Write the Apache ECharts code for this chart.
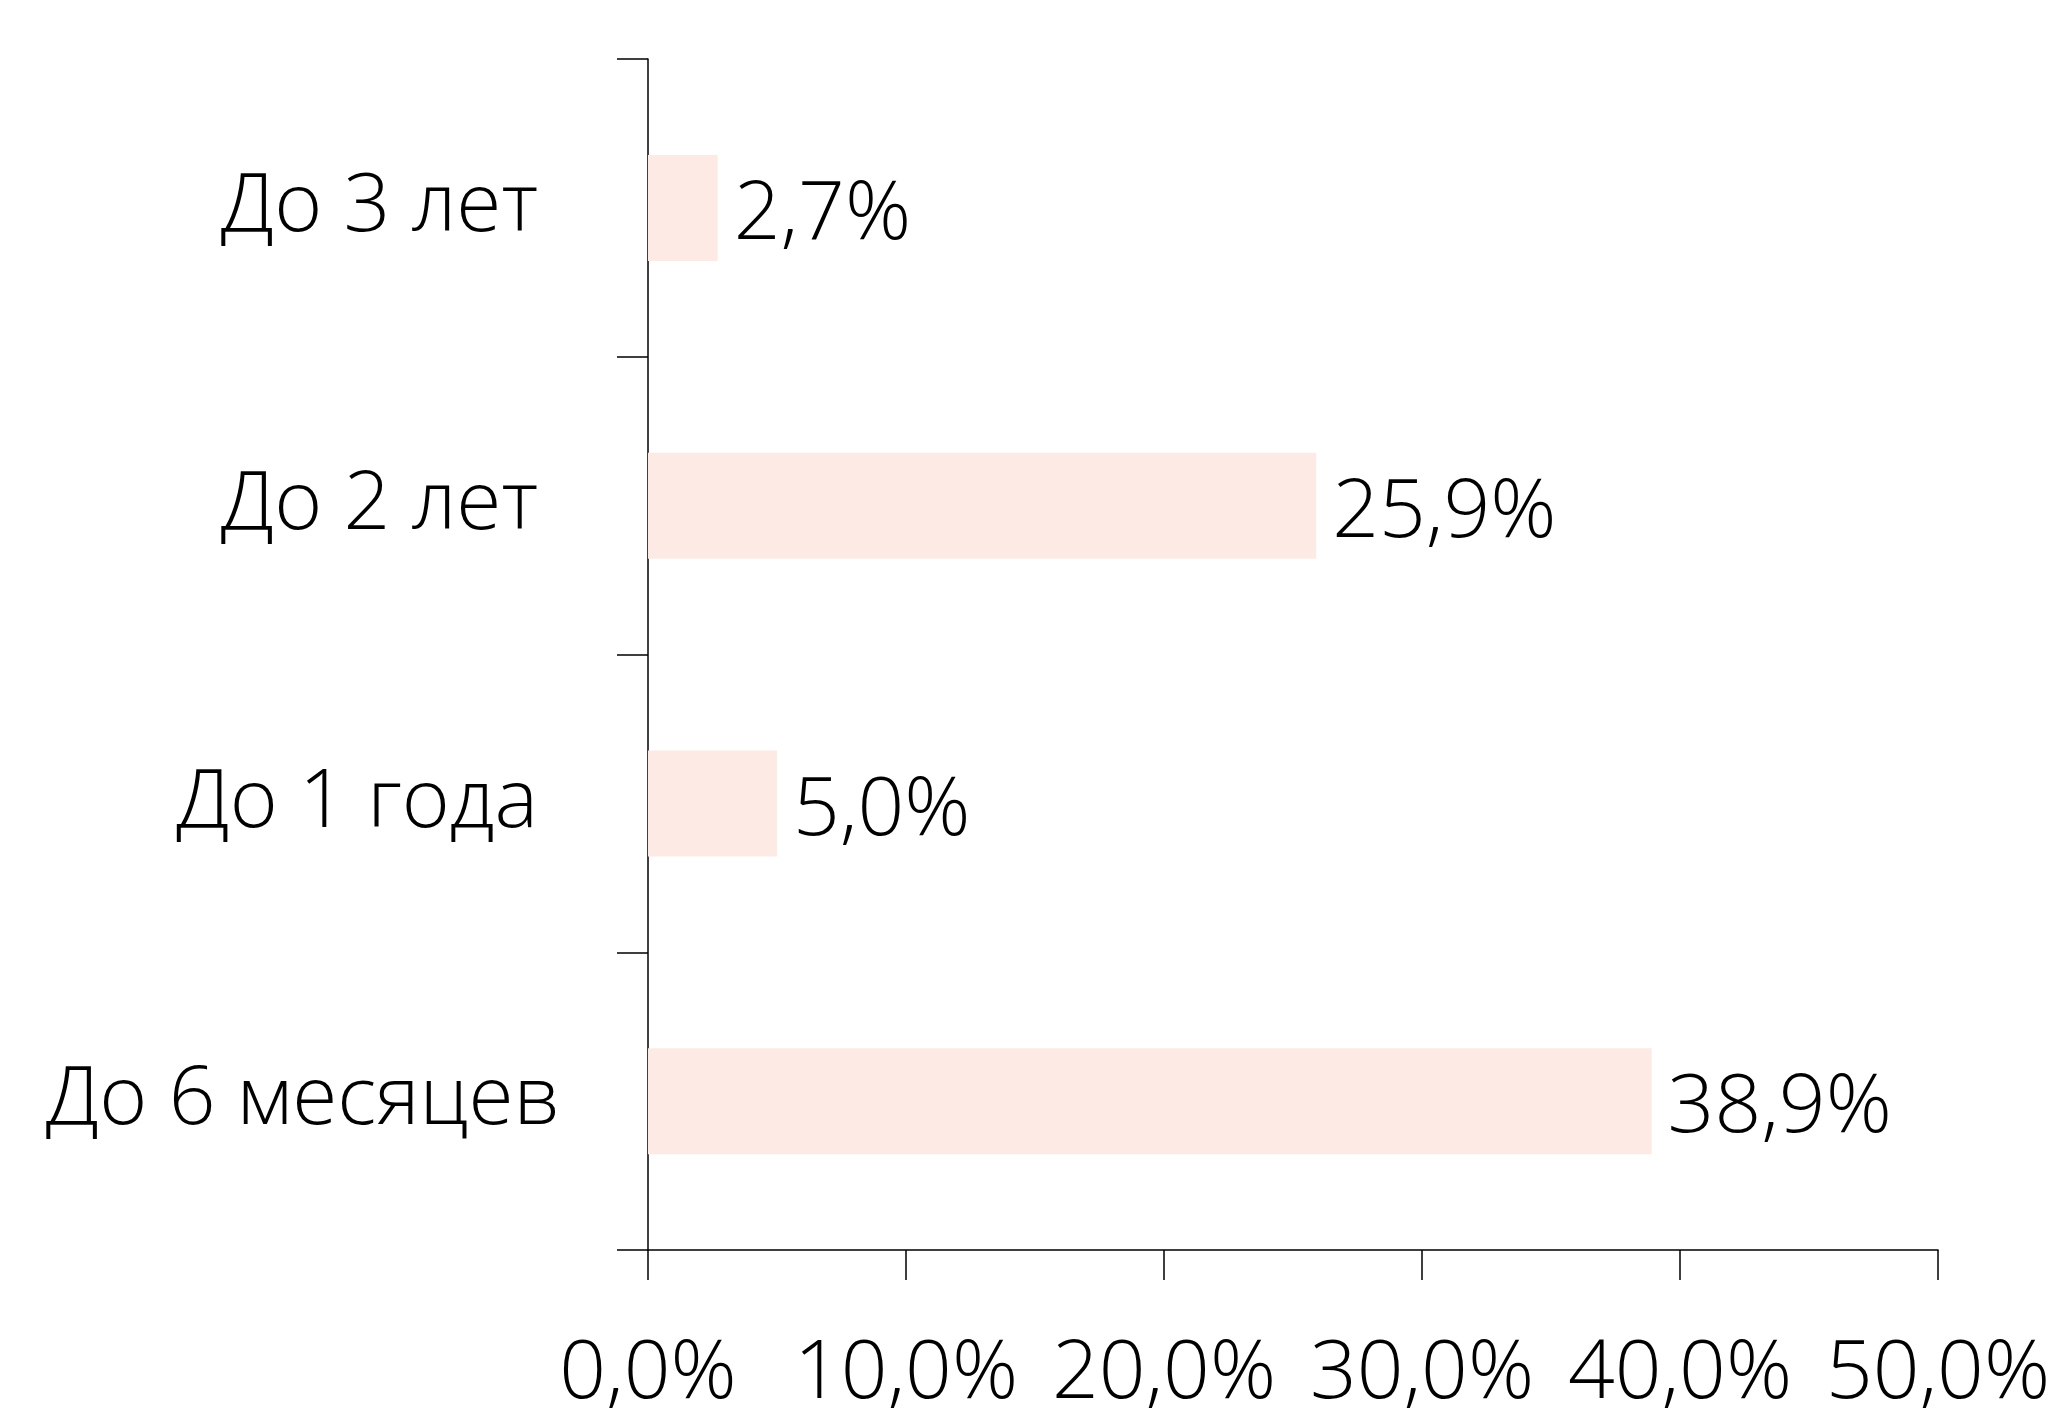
<!DOCTYPE html>
<html>
<head>
<meta charset="utf-8">
<script src="https://cdn.jsdelivr.net/npm/echarts@6/dist/echarts.min.js"></script>
<style>
html,body{margin:0;padding:0;background:#fff;}
#chart{width:2057px;height:1414px;}
</style>
</head>
<body>
<div id="chart"></div>
<script>
const categories = ['До 6 месяцев', 'До 1 года', 'До 2 лет', 'До 3 лет'];
const values = [38.9, 5.0, 25.9, 2.7];
const xMin = 0, xMax = 50, xStep = 10;

const fmt = v => v.toFixed(1).replace('.', ',') + '%';
const FONT = '"Open Sans", "Noto Sans", sans-serif';
const FS = 82;
const FW = 350;

const chart = echarts.init(document.getElementById('chart'));
chart.setOption({
  animation: false,
  backgroundColor: '#ffffff',
  grid: { left: 648, right: 119, top: 59, bottom: 164, containLabel: false, outerBoundsMode: 'none' },
  xAxis: {
    type: 'value', min: xMin, max: xMax, interval: xStep,
    axisLine: { show: true, lineStyle: { color: '#000', width: 1.5 } },
    axisTick: { show: true, length: 30, lineStyle: { color: '#000', width: 1.5 } },
    splitLine: { show: false },
    axisLabel: { color: '#000', fontSize: FS, fontWeight: FW, fontFamily: FONT, margin: 84, formatter: v => fmt(v) }
  },
  yAxis: {
    type: 'category',
    data: categories.map((c, i) => ({
      value: c,
      textStyle: { padding: [12, i === 0 ? 0 : 22, 0, 0] }
    })),
    axisLine: { show: true, lineStyle: { color: '#000', width: 1.5 } },
    axisTick: { show: true, length: 31, alignWithLabel: false, lineStyle: { color: '#000', width: 1.5 } },
    axisLabel: { color: '#000', fontSize: FS, fontWeight: FW, fontFamily: FONT, margin: 88, padding: [12, 0, 0, 0] }
  },
  series: [{
    type: 'bar',
    data: values,
    barWidth: 106,
    itemStyle: { color: '#FDEAE5' },
    label: {
      show: true, position: 'right', distance: 16, offset: [0, 8],
      color: '#000', fontSize: FS, fontWeight: FW, fontFamily: FONT,
      formatter: p => fmt(p.value)
    }
  }]
});
</script>
</body>
</html>
